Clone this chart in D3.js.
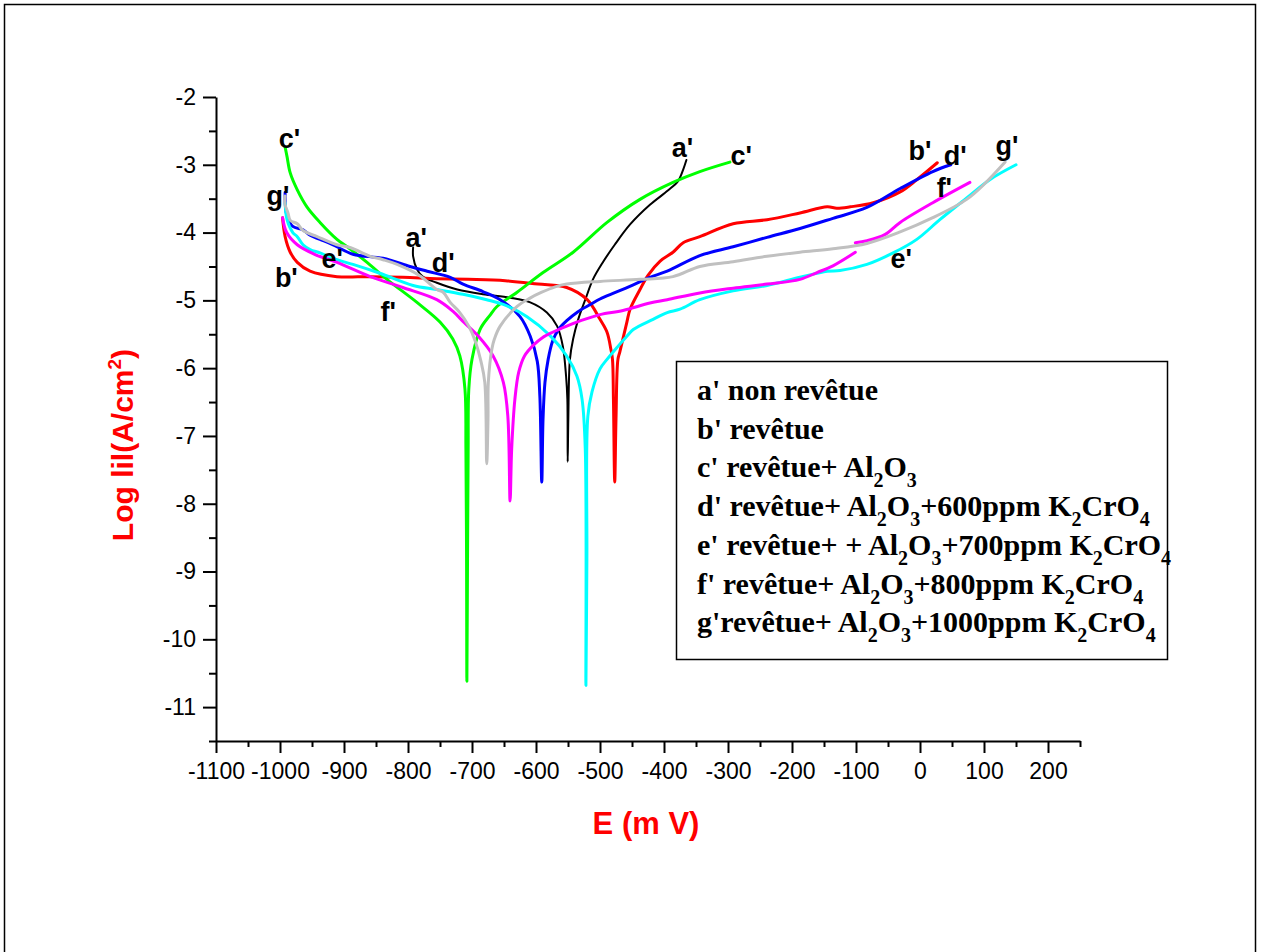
<!DOCTYPE html>
<html>
<head>
<meta charset="utf-8">
<script src="https://cdn.jsdelivr.net/npm/d3@7"></script>
<style>
  body { margin: 0; background: #fff; }
  svg { display: block; }
</style>
</head>
<body>
<svg id="chart" width="1261" height="952"></svg>
<script>
// E (mV), log |i|
const curveA = [[-792,-4.22],[-792,-4.35],[-786,-4.54],[-777,-4.65],[-755,-4.74],[-723,-4.84],[-683,-4.91],[-641,-4.96],[-609,-5.03],[-583,-5.18],[-567,-5.38],[-558,-5.68],[-553,-6.12],[-551,-6.46],[-550.5,-7.38],[-549.5,-6.75],[-547,-5.87],[-542,-5.57],[-534,-5.28],[-523,-4.99],[-511,-4.69],[-495,-4.43],[-477,-4.18],[-453,-3.88],[-422,-3.59],[-394,-3.38],[-378,-3.24],[-370,-3.07],[-365,-2.93]]
const curveB = [[-996,-3.78],[-992,-4.06],[-984,-4.29],[-973,-4.44],[-953,-4.57],[-911,-4.65],[-859,-4.65],[-808,-4.66],[-755,-4.68],[-706,-4.69],[-648,-4.71],[-597,-4.76],[-552,-4.81],[-520,-4.99],[-500,-5.28],[-489,-5.47],[-483,-5.72],[-480.5,-5.87],[-479,-6.46],[-477,-7.68],[-475,-6.75],[-472,-5.87],[-469,-5.76],[-458,-5.32],[-453,-5.13],[-437.5,-4.84],[-425,-4.63],[-406,-4.42],[-386,-4.29],[-370,-4.15],[-344,-4.06],[-292,-3.87],[-239,-3.81],[-187.5,-3.71],[-145,-3.62],[-130,-3.64],[-109,-3.62],[-73,-3.56],[-31,-3.40],[-5,-3.22],[27,-2.97]]
const curveC = [[-992,-2.74],[-989,-2.88],[-984,-3.12],[-973,-3.37],[-958,-3.62],[-937.5,-3.85],[-911,-4.10],[-895,-4.21],[-864,-4.44],[-833,-4.69],[-786,-5.03],[-750,-5.32],[-730,-5.57],[-719,-5.82],[-711,-6.31],[-709.5,-7.19],[-708.5,-8.81],[-708,-10.62],[-707,-8.81],[-706,-7.19],[-705,-6.31],[-700,-5.87],[-687.5,-5.43],[-672,-5.22],[-661,-5.09],[-629.5,-4.88],[-589,-4.59],[-542,-4.29],[-489,-3.85],[-437.5,-3.51],[-386,-3.26],[-344,-3.10],[-297,-2.96]]
const curveD = [[-992,-3.41],[-989.5,-3.74],[-980,-3.91],[-964,-3.96],[-953,-4.04],[-937.5,-4.10],[-917,-4.18],[-886,-4.32],[-839,-4.38],[-797,-4.50],[-770,-4.57],[-734,-4.66],[-714,-4.76],[-683,-4.87],[-656,-4.99],[-625,-5.24],[-609,-5.53],[-598,-5.90],[-594,-6.41],[-591,-7.68],[-589,-6.75],[-586,-6.21],[-581,-5.87],[-574,-5.60],[-565,-5.43],[-552,-5.30],[-535,-5.17],[-515,-5.06],[-500,-4.98],[-475,-4.88],[-448,-4.77],[-422,-4.66],[-395,-4.57],[-344,-4.34],[-292,-4.21],[-239,-4.07],[-187.5,-3.94],[-136,-3.79],[-83,-3.63],[-31,-3.35],[20,-3.10],[48,-3.00]]
const curveE = [[-992,-3.56],[-989,-3.81],[-980,-4.00],[-973,-4.06],[-964,-4.18],[-953,-4.25],[-937.5,-4.30],[-911,-4.40],[-886,-4.47],[-844,-4.60],[-792,-4.78],[-755,-4.84],[-714,-4.91],[-677,-4.99],[-651,-5.06],[-614,-5.24],[-578,-5.52],[-552,-5.82],[-536,-6.12],[-528,-6.46],[-523,-7.19],[-522,-10.68],[-520.5,-8.81],[-519,-6.71],[-512.5,-6.35],[-500,-6.01],[-489,-5.87],[-473,-5.69],[-458,-5.53],[-448,-5.43],[-417,-5.28],[-395,-5.18],[-375,-5.13],[-344,-4.99],[-292,-4.86],[-239,-4.78],[-187.5,-4.66],[-145,-4.57],[-125,-4.56],[-83,-4.47],[-42,-4.30],[-5,-4.10],[31,-3.81],[73,-3.49],[109,-3.22],[150,-3.00]]
// f' has a break near -100 mV
const curveF = [[-996,-3.78],[-989.5,-4.00],[-973,-4.18],[-946,-4.32],[-911,-4.44],[-859,-4.65],[-808,-4.81],[-755,-4.99],[-730,-5.16],[-712,-5.33],[-690,-5.53],[-667,-5.82],[-651,-6.21],[-644,-6.71],[-640.5,-7.96],[-638,-7.19],[-633,-6.46],[-627,-6.06],[-618,-5.82],[-604,-5.66],[-590,-5.55],[-574,-5.47],[-552,-5.38],[-530,-5.30],[-500,-5.21],[-464,-5.15],[-422,-5.04],[-395,-4.99],[-344,-4.89],[-292,-4.82],[-239,-4.76],[-187.5,-4.69],[-161,-4.59],[-136,-4.49],[-101,-4.29],null,[-101,-4.15],[-83,-4.12],[-55,-4.03],[-31,-3.85],[20,-3.56],[78,-3.26]]
const curveG = [[-992,-3.46],[-992,-3.59],[-987.5,-3.71],[-984,-3.82],[-973,-3.87],[-964,-3.97],[-942,-4.06],[-911,-4.18],[-890.6,-4.22],[-859,-4.35],[-839,-4.40],[-817,-4.47],[-781,-4.64],[-755,-4.84],[-745,-4.88],[-734,-5.03],[-719,-5.18],[-705,-5.38],[-695,-5.60],[-686,-5.90],[-680,-6.21],[-677,-7.41],[-675,-6.75],[-674.5,-6.21],[-669,-5.72],[-665,-5.57],[-656,-5.38],[-629.5,-5.09],[-610,-4.97],[-591,-4.88],[-570,-4.80],[-552,-4.76],[-500,-4.72],[-437.5,-4.69],[-386,-4.65],[-344,-4.50],[-292,-4.43],[-239,-4.35],[-187.5,-4.29],[-136,-4.24],[-83,-4.16],[-31,-3.99],[20,-3.78],[73,-3.51],[101,-3.28],[133,-2.96]]

const seriesData = [curveA, curveB, curveC, curveD, curveE, curveF, curveG]
const seriesColors = ['#000000', '#ff0000', '#00ff00', '#0000ff', '#00ffff', '#ff00ff', '#c0c0c0']

// curve labels: text, E, log i (baseline left)
const labelText = ["c'", "g'", "b'", "e'", "a'", "d'", "f'", "a'", "c'", "b'", "d'", "g'", "f'", "e'"]
const labelE = [-1002, -1021, -1008, -935, -804, -763, -843, -388, -296, -18, 37, 118, 26, -46]
const labelLog = [-2.75, -3.59, -4.80, -4.52, -4.21, -4.58, -5.30, -2.88, -3.00, -2.93, -3.00, -2.86, -3.47, -4.52]

const legendRows = [
  "a' non revêtue",
  "b' revêtue",
  "c' revêtue+ Al_2O_3",
  "d' revêtue+ Al_2O_3+600ppm K_2CrO_4",
  "e' revêtue+ + Al_2O_3+700ppm K_2CrO_4",
  "f' revêtue+ Al_2O_3+800ppm K_2CrO_4",
  "g'revêtue+ Al_2O_3+1000ppm K_2CrO_4"
]

const xMajor = d3.range(-1100, 201, 100)
const xMinor = d3.range(-1050, 251, 100)
const yMajor = d3.range(-11, -1, 1)
const yMinor = d3.range(-11.5, -2, 1)

const margin = { top: 97, left: 216, right: 181, bottom: 211 }
const W = 1261
const H = 952
const width = W - margin.left - margin.right
const height = H - margin.top - margin.bottom

const svg = d3.select('#chart')

svg.append('rect')
  .attr('x', 4.5).attr('y', 4.5)
  .attr('width', 1251).attr('height', 960)
  .attr('fill', 'none').attr('stroke', '#000').attr('stroke-width', 1.5)

const g = svg.append('g')
  .attr('transform', 'translate(' + margin.left + ',' + margin.top + ')')

const x = d3.scaleLinear().domain([-1100, 250]).range([0, width])
const y = d3.scaleLinear().domain([-11.5, -2]).range([height, 0])

const plain = d => String(d)

// axes
g.append('g')
  .attr('transform', 'translate(0,' + height + ')')
  .call(d3.axisBottom(x).tickValues(xMajor).tickFormat(plain).tickSize(12).tickPadding(10).tickSizeOuter(0))
g.append('g')
  .attr('transform', 'translate(0,' + height + ')')
  .call(d3.axisBottom(x).tickValues(xMinor).tickSize(6).tickFormat('').tickSizeOuter(0))
  .select('.domain').remove()

g.append('g')
  .call(d3.axisLeft(y).tickValues(yMajor).tickFormat(plain).tickSize(13).tickPadding(7).tickSizeOuter(0))
g.append('g')
  .call(d3.axisLeft(y).tickValues(yMinor).tickSize(7).tickFormat('').tickSizeOuter(0))
  .select('.domain').remove()

g.selectAll('.domain').attr('stroke-width', 2)
g.selectAll('.tick line').attr('stroke-width', 2)
g.selectAll('.tick text')
  .style('font-family', 'Arial, "Liberation Sans", sans-serif')
  .style('font-size', '23px')
  .attr('fill', '#000')

// curves
const line = d3.line()
  .defined(d => d != null)
  .x(d => x(d[0]))
  .y(d => y(d[1]))
  .curve(d3.curveCatmullRom.alpha(0.5))

g.selectAll('.curve')
  .data(seriesData)
  .enter()
  .append('path')
  .attr('class', 'curve')
  .attr('d', line)
  .attr('fill', 'none')
  .attr('stroke', (d, i) => seriesColors[i])
  .attr('stroke-width', (d, i) => i === 0 ? 2 : 3)
  .attr('stroke-linejoin', 'round')
  .attr('stroke-linecap', 'round')

// curve labels
g.selectAll('.clabel')
  .data(labelText)
  .enter()
  .append('text')
  .attr('class', 'clabel')
  .attr('x', (d, i) => x(labelE[i]))
  .attr('y', (d, i) => y(labelLog[i]))
  .text(d => d)
  .style('font-family', 'Arial, "Liberation Sans", sans-serif')
  .style('font-weight', 'bold')
  .style('font-size', '27px')

// axis titles
svg.append('text')
  .attr('x', 646).attr('y', 834)
  .attr('text-anchor', 'middle')
  .attr('fill', '#ff0000')
  .style('font-family', 'Arial, "Liberation Sans", sans-serif')
  .style('font-weight', 'bold')
  .style('font-size', '31px')
  .text('E (m V)')

const yTitle = svg.append('text')
  .attr('transform', 'translate(133,445) rotate(-90)')
  .attr('text-anchor', 'middle')
  .attr('fill', '#ff0000')
  .style('font-family', 'Arial, "Liberation Sans", sans-serif')
  .style('font-weight', 'bold')
  .style('font-size', '30px')
yTitle.append('tspan').text('Log lil(A/cm')
yTitle.append('tspan').attr('dy', -12).style('font-size', '19px').text('2')
yTitle.append('tspan').attr('dy', 12).text(')')

// legend box
svg.append('rect')
  .attr('x', 676.5).attr('y', 361.5)
  .attr('width', 491).attr('height', 298)
  .attr('fill', '#fff').attr('stroke', '#000').attr('stroke-width', 1.5)

const legend = svg.append('g')
  .style('font-family', '"Times New Roman", "Liberation Serif", serif')
  .style('font-weight', 'bold')
  .style('font-size', '30px')

legendRows.forEach(function(row, i) {
  const t = legend.append('text')
    .attr('x', 697)
    .attr('y', 400 + i * 38.7)
  let shift = 0
  row.split(/(_\d)/).filter(s => s !== '').forEach(function(part) {
    if (part[0] === '_') {
      t.append('tspan').attr('dy', 10 - shift).style('font-size', '20px').text(part.slice(1))
      shift = 10
    } else {
      t.append('tspan').attr('dy', -shift).text(part)
      shift = 0
    }
  })
})
</script>
</body>
</html>
